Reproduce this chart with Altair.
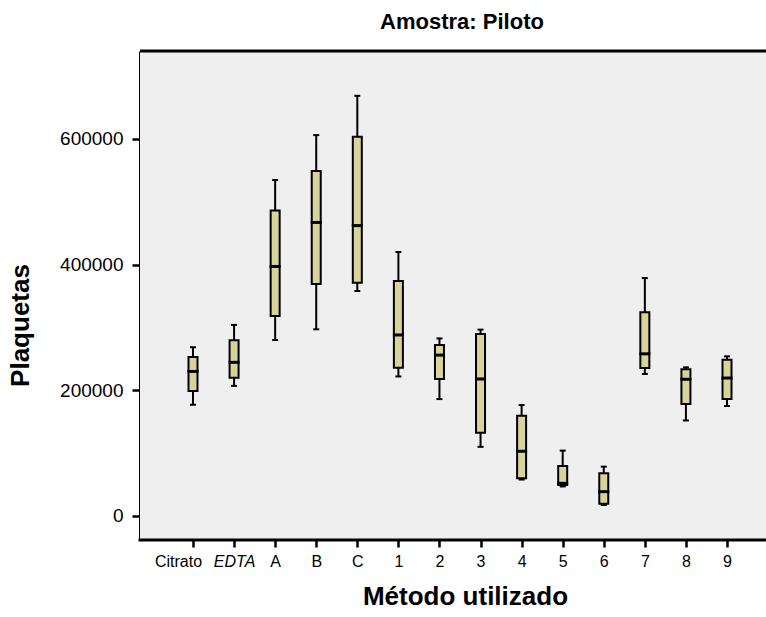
import altair as alt
import pandas as pd

categories = ["Citrato", "EDTA", "A", "B", "C", "1", "2", "3", "4", "5", "6", "7", "8", "9"]
mins = [177000, 207000, 280000, 297000, 358000, 222000, 186000, 110000, 58000, 47000, 17500, 226000, 152000, 175000]
q1s = [199000, 220000, 318000, 369000, 371000, 236000, 218000, 132500, 60000, 49500, 19600, 235500, 178000, 186000]
medians = [230000, 244500, 397000, 467000, 462000, 288000, 256000, 218000, 103000, 52000, 38700, 258000, 217500, 219500]
q3s = [253000, 279500, 486000, 549000, 603500, 374000, 272000, 289500, 159500, 79500, 68000, 324000, 233500, 248500]
maxs = [268500, 304000, 534500, 606000, 668500, 420000, 282500, 296500, 176500, 104000, 78500, 378500, 236500, 254000]

df = pd.DataFrame({
    "metodo": categories,
    "min": mins,
    "q1": q1s,
    "med": medians,
    "q3": q3s,
    "max": maxs,
})

FONT = "Liberation Sans"
W, H = 626, 489

x_enc = alt.X(
    "metodo:N",
    sort=categories,
    scale=alt.Scale(type="point", domain=categories, range=[53, 587], padding=0),
    axis=alt.Axis(
        title="Método utilizado",
        titleFont=FONT,
        titleFontSize=26,
        titleFontWeight="bold",
        titleColor="black",
        titleX=325,
        titleY=64,
        titleAlign="center",
        titleBaseline="alphabetic",
        labelFont=FONT,
        labelFontSize=16,
        labelColor="black",
        labelAngle=0,
        labelPadding=6,
        labelFontStyle={"condition": {"test": "datum.value == 'EDTA'", "value": "italic"}, "value": "normal"},
        labelOffset={"condition": {"test": "datum.value == 'Citrato'", "value": -15}, "value": 0},
        tickSize=7,
        tickWidth=2.5,
        tickColor="black",
        domain=False,
        grid=False,
    ),
)

y_scale = alt.Scale(domain=[-38200, 739800], nice=False, zero=False)
y_axis = alt.Axis(
    title="Plaquetas",
    titleFont=FONT,
    titleFontSize=26,
    titleFontWeight="bold",
    titleColor="black",
    titleAngle=-90,
    titleX=-107,
    titleY=274,
    titleAlign="center",
    titleBaseline="bottom",
    values=[0, 200000, 400000, 600000],
    format="d",
    labelFont=FONT,
    labelFontSize=19,
    labelColor="black",
    labelPadding=9,
    tickSize=8,
    tickWidth=2.5,
    tickColor="black",
    domainColor="black",
    domainWidth=3,
    grid=False,
)

frame_data = alt.Data(values=[{}])

background = alt.Chart(frame_data).mark_rect(fill="#EFEFEF", stroke=None).encode(
    x=alt.value(0), x2=alt.value(W), y=alt.value(0), y2=alt.value(H)
)

base = alt.Chart(df)

whisker = base.mark_rule(color="black", strokeWidth=2).encode(
    x=x_enc,
    y=alt.Y("min:Q", scale=y_scale, axis=y_axis),
    y2="max:Q",
)
cap_lo = base.mark_tick(color="black", size=6, thickness=2, opacity=1).encode(
    x=alt.X("metodo:N", sort=categories), y=alt.Y("min:Q")
)
cap_hi = base.mark_tick(color="black", size=6, thickness=2, opacity=1).encode(
    x=alt.X("metodo:N", sort=categories), y=alt.Y("max:Q")
)
box = base.mark_bar(size=9, fill="#D6D39B", stroke="black", strokeWidth=2).encode(
    x=alt.X("metodo:N", sort=categories), y=alt.Y("q1:Q"), y2="q3:Q"
)
median = base.mark_tick(color="black", size=11, thickness=3, opacity=1).encode(
    x=alt.X("metodo:N", sort=categories), y=alt.Y("med:Q")
)
top_border = alt.Chart(frame_data).mark_rule(color="black", strokeWidth=3).encode(
    x=alt.value(0), x2=alt.value(W), y=alt.value(0)
)
bottom_border = alt.Chart(frame_data).mark_rule(color="black", strokeWidth=3).encode(
    x=alt.value(-1.5), x2=alt.value(W), y=alt.value(H)
)

chart = (
    alt.layer(background, whisker, cap_lo, cap_hi, box, median, top_border, bottom_border)
    .properties(
        width=W,
        height=H,
        title=alt.TitleParams(
            "Amostra: Piloto",
            font=FONT,
            fontSize=22,
            fontWeight="bold",
            color="black",
            anchor="middle",
            dx=9,
            offset=16,
        ),
        autosize=alt.AutoSizeParams(type="none"),
        padding={"left": 140, "top": 51, "right": 0, "bottom": 77},
    )
    .configure_view(strokeWidth=0)
    .configure(background="white")
)

chart.save("out.html", embed_options={"renderer": "svg", "actions": False})
